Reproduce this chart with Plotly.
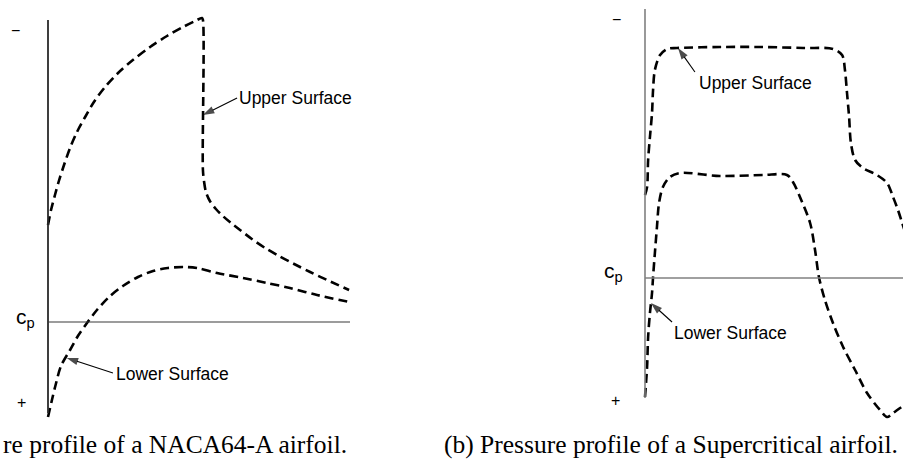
import plotly.graph_objects as go

# ---------------------------------------------------------------
# Schematic pressure distributions (-Cp against chord fraction x/c)
# ---------------------------------------------------------------

# (a) NACA64-A airfoil: suction peak followed by a shock on the upper surface
naca_upper_x = [0.000, 0.010, 0.023, 0.036, 0.053, 0.073, 0.096, 0.123, 0.152, 0.189,
                0.232, 0.281, 0.338, 0.394, 0.447, 0.487, 0.510, 0.513, 0.513, 0.517,
                0.523, 0.536, 0.556, 0.579, 0.606, 0.636, 0.675, 0.719, 0.765, 0.815,
                0.868, 0.924, 0.997]
naca_upper_cp = [0.485, 0.560, 0.635, 0.705, 0.785, 0.870, 0.950, 1.025, 1.100, 1.175,
                 1.245, 1.310, 1.375, 1.430, 1.475, 1.505, 1.520, 1.510, 0.760, 0.700,
                 0.650, 0.605, 0.565, 0.530, 0.495, 0.460, 0.415, 0.370, 0.330, 0.290,
                 0.250, 0.210, 0.160]

naca_lower_x = [0.000, 0.013, 0.026, 0.043, 0.073, 0.099, 0.129, 0.162, 0.202, 0.248,
                0.298, 0.348, 0.397, 0.447, 0.493, 0.560, 0.646, 0.725, 0.801, 0.891, 0.997]
naca_lower_cp = [-0.475, -0.390, -0.310, -0.220, -0.140, -0.070, -0.005, 0.060, 0.125, 0.180,
                 0.225, 0.255, 0.270, 0.275, 0.270, 0.245, 0.220, 0.195, 0.170, 0.135, 0.100]

# (b) Supercritical airfoil: flat-topped "rooftop" distributions
sc_upper_x = [0.000, 0.008, 0.012, 0.019, 0.027, 0.031, 0.038, 0.058, 0.085, 0.123,
              0.288, 0.442, 0.608, 0.723, 0.758, 0.769, 0.777, 0.785, 0.792, 0.808,
              0.838, 0.892, 0.931, 0.954, 0.973, 0.988, 1.004]
sc_upper_cp = [0.415, 0.455, 0.590, 0.705, 0.825, 0.940, 1.040, 1.115, 1.145, 1.150,
               1.155, 1.155, 1.150, 1.145, 1.115, 1.040, 0.925, 0.805, 0.675, 0.590,
               0.550, 0.515, 0.475, 0.405, 0.340, 0.280, 0.215]

sc_lower_x = [0.000, 0.008, 0.012, 0.019, 0.027, 0.031, 0.038, 0.046, 0.054, 0.069,
              0.096, 0.135, 0.288, 0.454, 0.546, 0.569, 0.596, 0.635, 0.654, 0.669,
              0.692, 0.723, 0.762, 0.808, 0.854, 0.904, 0.931, 0.954, 0.981, 1.004]
sc_lower_cp = [-0.595, -0.445, -0.295, -0.175, -0.075, 0.005, 0.125, 0.255, 0.375, 0.455,
               0.505, 0.525, 0.510, 0.515, 0.515, 0.480, 0.405, 0.275, 0.140, 0.005,
               -0.110, -0.225, -0.345, -0.460, -0.575, -0.660, -0.695, -0.675, -0.650, -0.630]

captions = ["re profile of a NACA64-A airfoil.",
            "(b) Pressure profile of a Supercritical airfoil."]
surface_labels = ["Upper Surface", "Lower Surface"]

# ---------------------------------------------------------------
# Page geometry (pixels): where each panel's origin sits and its scale
# ---------------------------------------------------------------
W, H = 903, 469
SPLIT = 0.5
panels = {
    "a": dict(ox=48, oy=322, sx=302, sy=200, x0=0.0, x1=SPLIT * W),
    "b": dict(ox=645, oy=278, sx=260, sy=200, x0=SPLIT * W, x1=W),
}


def xrange_of(p):
    return [(p["x0"] - p["ox"]) / p["sx"], (p["x1"] - p["ox"]) / p["sx"]]


def yrange_of(p):
    return [(p["oy"] - H) / p["sy"], p["oy"] / p["sy"]]


fig = go.Figure()

dash_line = dict(color="black", width=2.6, dash="9px,5px", shape="spline", smoothing=0.9)


def curve(x, y, ax_id):
    fig.add_trace(go.Scatter(x=x, y=y, mode="lines", line=dash_line,
                             xaxis=f"x{ax_id}", yaxis=f"y{ax_id}", hoverinfo="skip"))


curve(naca_upper_x, naca_upper_cp, "")
curve(naca_lower_x, naca_lower_cp, "")
curve(sc_upper_x, sc_upper_cp, "2")
curve(sc_lower_x, sc_lower_cp, "2")

# Hand-drawn style axes: a vertical Cp axis and the Cp = 0 line
fig.add_shape(type="line", xref="x", yref="y", x0=0, x1=0, y0=-0.455, y1=1.51,
              line=dict(color="#2a2a2a", width=1.8))
fig.add_shape(type="line", xref="x", yref="y", x0=0, x1=1, y0=0, y1=0,
              line=dict(color="#3a3a3a", width=1.2))
fig.add_shape(type="line", xref="x2", yref="y2", x0=0, x1=0, y0=-0.60, y1=1.345,
              line=dict(color="#808080", width=1.6))
fig.add_shape(type="line", xref="x2", yref="y2", x0=0, x1=1.05, y0=0, y1=0,
              line=dict(color="#808080", width=1.6))

sans = "Liberation Sans, Arial, sans-serif"
serif = "Liberation Serif, DejaVu Serif, serif"


def label(text, x, y, ax_id, size=17.5, xanchor="left"):
    fig.add_annotation(text=text, x=x, y=y, xref=f"x{ax_id}", yref=f"y{ax_id}",
                       showarrow=False, xanchor=xanchor, yanchor="middle",
                       font=dict(family=sans, size=size, color="black"))


def arrow(tip_x, tip_y, tail_x, tail_y, ax_id):
    # thin leader line ending in an arrowhead oriented along the segment
    fig.add_trace(go.Scatter(
        x=[tail_x, tip_x], y=[tail_y, tip_y], mode="lines+markers",
        line=dict(color="black", width=1.1),
        marker=dict(symbol="arrow", size=[0, 12], angleref="previous",
                    color="black", line=dict(width=0)),
        xaxis=f"x{ax_id}", yaxis=f"y{ax_id}", hoverinfo="skip"))


# Panel (a) annotations
label("\u2212", -0.106, 1.46, "", size=16, xanchor="center")
label("+", -0.089, -0.40, "", size=16, xanchor="center")
label("c<sub>p</sub>", -0.075, 0.02, "", size=21, xanchor="center")
label(surface_labels[0], 0.626, 1.12, "")
arrow(0.513, 1.035, 0.626, 1.12, "")
label(surface_labels[1], 0.219, -0.26, "")
arrow(0.062, -0.18, 0.215, -0.255, "")

# Panel (b) annotations
label("\u2212", -0.108, 1.295, "2", size=16, xanchor="center")
label("+", -0.115, -0.61, "2", size=16, xanchor="center")
label("c<sub>p</sub>", -0.123, 0.03, "2", size=21, xanchor="center")
label(surface_labels[0], 0.200, 0.975, "2")
arrow(0.127, 1.15, 0.192, 1.03, "2")
label(surface_labels[1], 0.104, -0.275, "2")
arrow(0.023, -0.125, 0.104, -0.22, "2")

# Sub-figure captions
cap_y = 1 - 444 / H
fig.add_annotation(text=captions[0], x=1 / W, y=cap_y, xref="paper", yref="paper",
                   showarrow=False, xanchor="left", yanchor="middle",
                   font=dict(family=serif, size=25.5, color="black"))
fig.add_annotation(text=captions[1], x=900 / W, y=cap_y, xref="paper", yref="paper",
                   showarrow=False, xanchor="right", yanchor="middle",
                   font=dict(family=serif, size=25.5, color="black"))

hidden = dict(visible=False, fixedrange=True)
pa, pb = panels["a"], panels["b"]
fig.update_layout(
    width=W, height=H,
    margin=dict(l=0, r=0, t=0, b=0),
    paper_bgcolor="white", plot_bgcolor="white",
    showlegend=False,
    xaxis=dict(domain=[0, SPLIT], range=xrange_of(pa), **hidden),
    yaxis=dict(domain=[0, 1], range=yrange_of(pa), **hidden),
    xaxis2=dict(domain=[SPLIT, 1], range=xrange_of(pb), anchor="y2", **hidden),
    yaxis2=dict(domain=[0, 1], range=yrange_of(pb), anchor="x2", **hidden),
)

fig.write_html("out.html")
